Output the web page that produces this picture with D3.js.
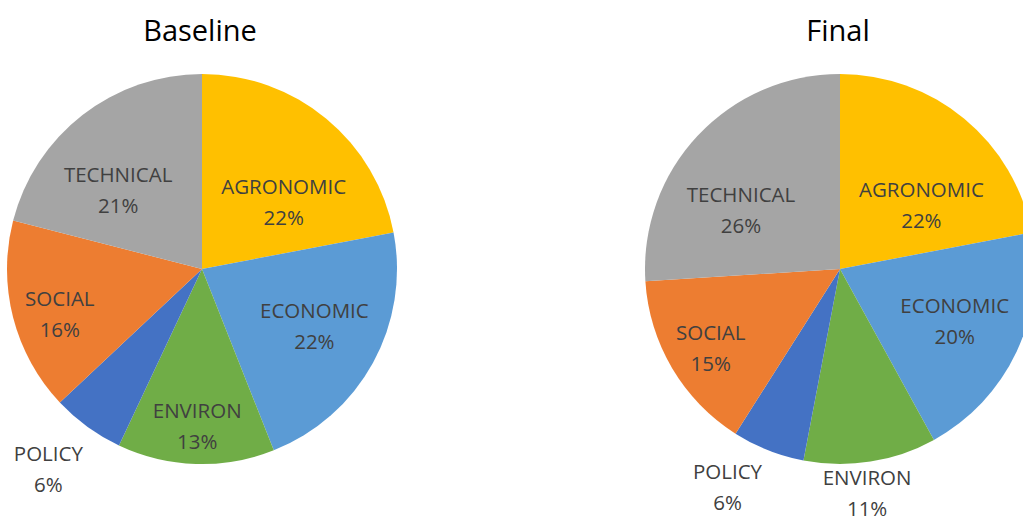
<!DOCTYPE html>
<html>
<head>
<meta charset="utf-8">
<script src="https://cdn.jsdelivr.net/npm/d3@7"></script>
<style>
  body { margin: 0; background: #fff; }
  svg { display: block; }
</style>
</head>
<body>
<div id="app"></div>
<script>
const categories = ["AGRONOMIC", "ECONOMIC", "ENVIRON", "POLICY", "SOCIAL", "TECHNICAL"]
const baselineValues = [22, 22, 13, 6, 16, 21]
const finalValues = [22, 20, 11, 6, 15, 26]
const titles = ["Baseline", "Final"]

const colors = [
    "#ffc000", //agronomic
    "#5b9bd5", //economic
    "#70ad47", //environ
    "#4472c4", //policy
    "#ed7d31", //social
    "#a5a5a5" //technical
]

// where each label sits: radius as share of pie radius, plus a small turn in degrees
const labelPlace = [
    [[0.55, 10], [0.64, -3], [0.79, 0], [1.28, 2], [0.76, -2], [0.6, -8]],
    [[0.54, 11], [0.64, -2], [1.14, 2], [1.245, 6], [0.77, 0], [0.6, -11]]
]

const width = 1023
const height = 524
const radius = 195
const centers = [[202, 269], [840, 269]]

const svg = d3.select('#app')
    .append('svg')
    .attr('width', width)
    .attr('height', height)

const pie = d3.pie().sort(null).value(d => d)
const arc = d3.arc().innerRadius(0).outerRadius(radius)

;[baselineValues, finalValues].forEach((values, p) => {
    const g = svg.append('g')
        .attr('transform', `translate(${centers[p][0]},${centers[p][1]})`)

    const arcs = pie(values)

    g.selectAll('path')
        .data(arcs)
        .enter()
        .append('path')
        .attr('d', arc)
        .attr('fill', (d, i) => colors[i])

    const labels = g.selectAll('text.label')
        .data(arcs)
        .enter()
        .append('text')
        .attr('class', 'label')
        .attr('text-anchor', 'middle')
        .attr('font-family', "'Open Sans', sans-serif")
        .attr('font-size', 20.5)
        .attr('fill', '#404040')
        .attr('transform', (d, i) => {
            const [k, turn] = labelPlace[p][i]
            const a = (d.startAngle + d.endAngle) / 2 + turn * Math.PI / 180
            const r = k * radius
            return `translate(${r * Math.sin(a)},${-r * Math.cos(a)})`
        })

    labels.append('tspan')
        .attr('x', 0)
        .attr('y', -5)
        .text((d, i) => categories[i])
    labels.append('tspan')
        .attr('x', 0)
        .attr('y', 26)
        .text(d => d.data + '%')

    svg.append('text')
        .attr('x', centers[p][0] - 2)
        .attr('y', 41)
        .attr('text-anchor', 'middle')
        .attr('font-family', "'Open Sans', sans-serif")
        .attr('font-size', 29)
        .attr('fill', '#000')
        .text(titles[p])
})
</script>
</body>
</html>
